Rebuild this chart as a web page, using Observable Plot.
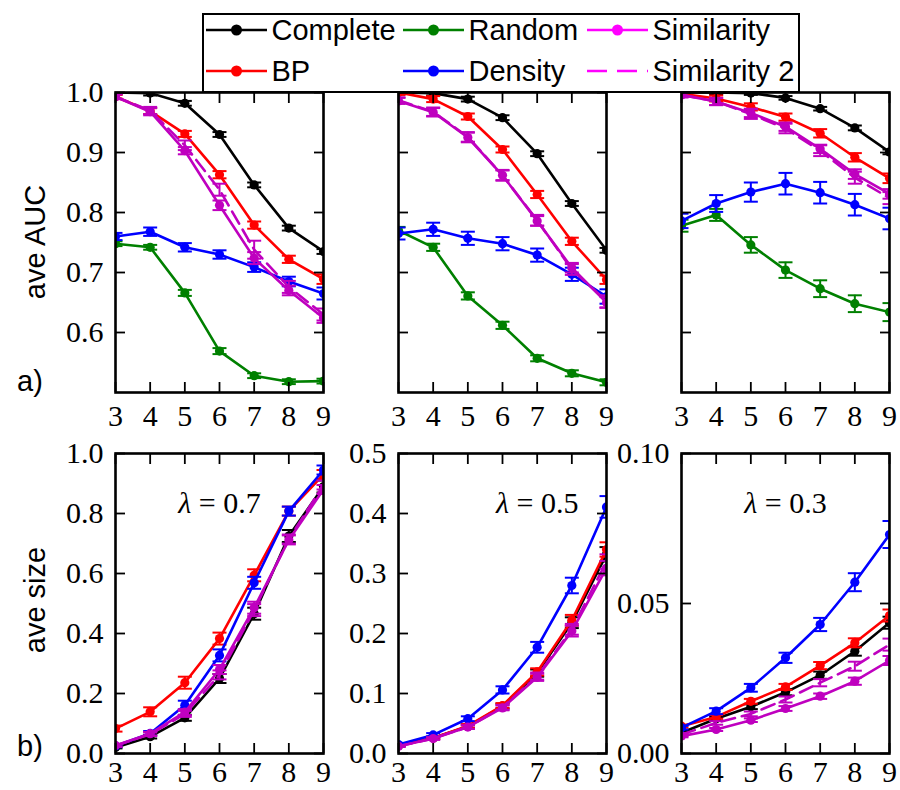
<!DOCTYPE html>
<html><head><meta charset="utf-8">
<script src="https://cdn.jsdelivr.net/npm/d3@7"></script>
<script src="https://cdn.jsdelivr.net/npm/@observablehq/plot@0.6"></script>
<style>
html,body{margin:0;padding:0;background:#fff;}
#chart{position:relative;width:900px;height:790px;overflow:hidden;background:#fff;}
.lab{position:absolute;font-family:"Liberation Sans",Arial,sans-serif;font-size:29px;color:#000;white-space:nowrap;line-height:1;}
#legend{position:absolute;left:202px;top:13px;width:598px;height:80px;box-sizing:border-box;border:2.5px solid #000;background:#fff;z-index:10;}
svg.panel text{font-family:"Liberation Serif","DejaVu Serif",serif !important;font-size:30px;}
</style></head><body><div id="chart"></div>
<script>
// ---------- data ----------
const sizes = [3, 4, 5, 6, 7, 8, 9];
const seriesNames = ["Complete", "BP", "Random", "Density", "Similarity", "Similarity 2"];
const lambdaLabels = ["0.7", "0.5", "0.3"];

// top row: ave AUC
const auc07Complete = [1.000, 0.999, 0.982, 0.930, 0.846, 0.774, 0.735];
const auc07BP = [0.993, 0.969, 0.931, 0.863, 0.779, 0.722, 0.689];
const auc07Random = [0.748, 0.742, 0.666, 0.569, 0.528, 0.518, 0.519];
const auc07Density = [0.760, 0.768, 0.742, 0.730, 0.709, 0.685, 0.665];
const auc07Similarity = [0.993, 0.968, 0.903, 0.812, 0.724, 0.670, 0.624];
const auc07Similarity2 = [0.993, 0.970, 0.912, 0.838, 0.738, 0.676, 0.630];
const auc07CompleteErr = [0.003, 0.004, 0.004, 0.004, 0.004, 0.004, 0.004];
const auc07BPErr = [0.003, 0.005, 0.005, 0.006, 0.006, 0.006, 0.008];
const auc07RandomErr = [0.004, 0.004, 0.005, 0.005, 0.004, 0.004, 0.004];
const auc07DensityErr = [0.006, 0.007, 0.007, 0.007, 0.008, 0.008, 0.010];
const auc07SimilarityErr = [0.004, 0.006, 0.006, 0.008, 0.010, 0.008, 0.008];
const auc07Similarity2Err = [0.004, 0.006, 0.008, 0.010, 0.015, 0.010, 0.010];

const auc05Complete = [1.000, 0.999, 0.989, 0.958, 0.898, 0.815, 0.737];
const auc05BP = [1.000, 0.989, 0.960, 0.905, 0.830, 0.752, 0.688];
const auc05Random = [0.770, 0.742, 0.661, 0.612, 0.557, 0.532, 0.517];
const auc05Density = [0.765, 0.772, 0.757, 0.748, 0.729, 0.697, 0.660];
const auc05Similarity = [0.986, 0.967, 0.925, 0.862, 0.786, 0.708, 0.650];
const auc05Similarity2 = [0.987, 0.968, 0.926, 0.862, 0.787, 0.705, 0.652];
const auc05CompleteErr = [0.003, 0.004, 0.004, 0.004, 0.004, 0.004, 0.004];
const auc05BPErr = [0.004, 0.005, 0.005, 0.005, 0.006, 0.006, 0.007];
const auc05RandomErr = [0.006, 0.006, 0.006, 0.006, 0.005, 0.005, 0.005];
const auc05DensityErr = [0.010, 0.011, 0.011, 0.011, 0.011, 0.011, 0.012];
const auc05SimilarityErr = [0.005, 0.007, 0.008, 0.008, 0.008, 0.008, 0.009];
const auc05Similarity2Err = [0.005, 0.007, 0.008, 0.009, 0.009, 0.009, 0.010];

const auc03Complete = [1.000, 1.000, 0.999, 0.991, 0.973, 0.941, 0.901];
const auc03BP = [0.998, 0.990, 0.976, 0.959, 0.932, 0.892, 0.857];
const auc03Random = [0.778, 0.796, 0.746, 0.704, 0.673, 0.648, 0.634];
const auc03Density = [0.786, 0.815, 0.834, 0.848, 0.833, 0.813, 0.790];
const auc03Similarity = [0.996, 0.985, 0.966, 0.943, 0.906, 0.864, 0.831];
const auc03Similarity2 = [0.996, 0.985, 0.964, 0.940, 0.903, 0.858, 0.824];
const auc03CompleteErr = [0.003, 0.003, 0.003, 0.003, 0.003, 0.004, 0.004];
const auc03BPErr = [0.004, 0.005, 0.006, 0.006, 0.007, 0.007, 0.008];
const auc03RandomErr = [0.010, 0.010, 0.013, 0.013, 0.014, 0.014, 0.015];
const auc03DensityErr = [0.012, 0.014, 0.016, 0.018, 0.018, 0.018, 0.018];
const auc03SimilarityErr = [0.004, 0.006, 0.007, 0.007, 0.007, 0.008, 0.008];
const auc03Similarity2Err = [0.004, 0.006, 0.008, 0.008, 0.009, 0.010, 0.010];

// bottom row: ave size
const size07Complete = [0.020, 0.056, 0.119, 0.250, 0.466, 0.725, 0.890];
const size07BP = [0.083, 0.139, 0.236, 0.383, 0.594, 0.808, 0.930];
const size07Density = [0.025, 0.067, 0.161, 0.327, 0.569, 0.808, 0.945];
const size07Similarity = [0.027, 0.066, 0.138, 0.280, 0.486, 0.712, 0.880];
const size07Similarity2 = [0.026, 0.064, 0.132, 0.262, 0.478, 0.715, 0.895];
const size07CompleteErr = [0.003, 0.006, 0.010, 0.015, 0.020, 0.020, 0.020];
const size07BPErr = [0.010, 0.015, 0.020, 0.020, 0.020, 0.015, 0.015];
const size07DensityErr = [0.004, 0.008, 0.015, 0.020, 0.020, 0.015, 0.015];
const size07SimilarityErr = [0.004, 0.006, 0.010, 0.015, 0.020, 0.015, 0.015];
const size07Similarity2Err = [0.004, 0.006, 0.010, 0.015, 0.020, 0.015, 0.015];

const size05Complete = [0.013, 0.026, 0.045, 0.079, 0.134, 0.218, 0.332];
const size05BP = [0.013, 0.026, 0.046, 0.080, 0.136, 0.222, 0.340];
const size05Density = [0.015, 0.031, 0.058, 0.106, 0.177, 0.280, 0.411];
const size05Similarity = [0.012, 0.025, 0.044, 0.076, 0.127, 0.204, 0.309];
const size05Similarity2 = [0.012, 0.025, 0.044, 0.077, 0.129, 0.207, 0.320];
const size05CompleteErr = [0.001, 0.002, 0.003, 0.004, 0.006, 0.009, 0.012];
const size05BPErr = [0.001, 0.002, 0.003, 0.004, 0.006, 0.009, 0.012];
const size05DensityErr = [0.002, 0.003, 0.004, 0.006, 0.009, 0.013, 0.018];
const size05SimilarityErr = [0.001, 0.002, 0.003, 0.004, 0.006, 0.009, 0.012];
const size05Similarity2Err = [0.001, 0.002, 0.003, 0.004, 0.006, 0.009, 0.012];

const size03Complete = [0.0069, 0.0116, 0.0156, 0.0204, 0.0261, 0.0341, 0.0436];
const size03BP = [0.0091, 0.0122, 0.0174, 0.0222, 0.0293, 0.0369, 0.0460];
const size03Density = [0.0086, 0.0141, 0.0219, 0.0319, 0.0430, 0.0571, 0.0730];
const size03Similarity = [0.0058, 0.0080, 0.0111, 0.0150, 0.0191, 0.0241, 0.0310];
const size03Similarity2 = [0.0063, 0.0102, 0.0132, 0.0180, 0.0236, 0.0291, 0.0363];
const size03CompleteErr = [0.0005, 0.0006, 0.0008, 0.0010, 0.0012, 0.0015, 0.0020];
const size03BPErr = [0.0005, 0.0006, 0.0008, 0.0010, 0.0012, 0.0015, 0.0020];
const size03DensityErr = [0.0006, 0.0010, 0.0013, 0.0017, 0.0022, 0.0030, 0.0045];
const size03SimilarityErr = [0.0004, 0.0005, 0.0006, 0.0008, 0.0009, 0.0012, 0.0015];
const size03Similarity2Err = [0.0005, 0.0006, 0.0008, 0.0010, 0.0012, 0.0015, 0.0020];

// tick values
const xTicks = [3, 4, 5, 6, 7, 8, 9];
const aucTicks = [0.6, 0.7, 0.8, 0.9, 1.0];
const size07Ticks = [0, 0.2, 0.4, 0.6, 0.8, 1.0];
const size05Ticks = [0, 0.1, 0.2, 0.3, 0.4, 0.5];
const size03Ticks = [0, 0.05, 0.10];

// ---------- styling ----------
const plotColors = ["#000000", "#ff0000", "#008000", "#0000ff", "#bf00bf", "#bf00bf"];
const legendColors = ["#000000", "#ff0000", "#008000", "#0000ff", "#ff00ff", "#ff00ff"];
const serif = '"Liberation Serif", "DejaVu Serif", serif';

function table(values, errs) {
  const rows = [];
  values.forEach((arr, i) => {
    if (!arr) return;
    arr.forEach((v, j) => rows.push({series: seriesNames[i], x: sizes[j], v, e: errs[i][j]}));
  });
  return rows;
}

const capSymbol = {
  draw(context, size) {
    const r = Math.sqrt(size / Math.PI);
    context.moveTo(-r, 0);
    context.lineTo(r, 0);
  }
};

const ML = 80, MR = 14, MT = 14, MB = 46, FW = 208, FH = 300;

function panel({rows, yDomain, yTicks, yFormat, showY, left, top, lambda, xPad}) {
  const marks = [];
  for (const s of seriesNames) {
    const d = rows.filter(r => r.series === s);
    if (!d.length) continue;
    const dashed = s === "Similarity 2";
    marks.push(Plot.ruleX(d, {x: "x", y1: r => r.v - r.e, y2: r => r.v + r.e, stroke: "series", strokeWidth: 2, clip: true}));
    marks.push(Plot.dot(d, {x: "x", y: r => r.v - r.e, symbol: capSymbol, r: 7, stroke: "series", fill: "none", strokeWidth: 2, clip: true}));
    marks.push(Plot.dot(d, {x: "x", y: r => r.v + r.e, symbol: capSymbol, r: 7, stroke: "series", fill: "none", strokeWidth: 2, clip: true}));
    marks.push(Plot.line(d, {x: "x", y: "v", stroke: "series", strokeWidth: 2.6, strokeDasharray: dashed ? "14,7" : null, clip: true}));
    if (!dashed) marks.push(Plot.dot(d, {x: "x", y: "v", fill: "series", r: 4.6, clip: true}));
  }
  if (lambda) {
    marks.push(Plot.text([lambda], {
      x: () => lambda.x, y: () => lambda.y,
      text: () => "λ = " + lambda.label,
      textAnchor: "middle", lineAnchor: "middle", dy: -10,
      fontSize: 30, fill: "#000"
    }));
  }
  marks.push(Plot.frame({stroke: "#000", strokeWidth: 2.6}));
  marks.push(Plot.axisX(xTicks, {anchor: "bottom", tickSize: -10, tickPadding: xPad, strokeWidth: 1.8, label: null, fontSize: 30, tickFormat: d3.format("d")}));
  marks.push(Plot.axisX(xTicks, {anchor: "top", tickSize: -10, strokeWidth: 1.8, label: null, tickFormat: () => ""}));
  marks.push(Plot.axisY(yTicks, {anchor: "left", tickSize: -10, tickPadding: 22, strokeWidth: 1.8, label: null, fontSize: 30, tickFormat: showY ? d3.format(yFormat) : () => ""}));
  marks.push(Plot.axisY(yTicks, {anchor: "right", tickSize: -10, strokeWidth: 1.8, label: null, tickFormat: () => ""}));
  const svg = Plot.plot({
    width: ML + FW + MR, height: MT + FH + MB,
    marginLeft: ML, marginRight: MR, marginTop: MT, marginBottom: MB,
    x: {domain: [3, 9]},
    y: {domain: yDomain},
    color: {domain: seriesNames, range: plotColors},
    style: {fontFamily: serif, fontSize: "30px", background: "transparent", overflow: "visible"},
    marks
  });
  svg.classList.add("panel");
  svg.style.position = "absolute";
  svg.style.left = (left - ML) + "px";
  svg.style.top = (top - MT) + "px";
  // italic λ in the annotation
  for (const t of svg.querySelectorAll("text")) {
    const s = t.textContent;
    if (s.startsWith("λ")) {
      t.textContent = "";
      const l = document.createElementNS("http://www.w3.org/2000/svg", "tspan");
      l.setAttribute("font-style", "italic");
      l.textContent = "λ";
      t.appendChild(l);
      t.appendChild(document.createTextNode(s.slice(1)));
    }
  }
  return svg;
}

const chart = document.getElementById("chart");
const colLeft = [115, 398, 681];
const topRow = 92, bottomRow = 453;

const aucPanels = [
  table([auc07Complete, auc07BP, auc07Random, auc07Density, auc07Similarity, auc07Similarity2],
        [auc07CompleteErr, auc07BPErr, auc07RandomErr, auc07DensityErr, auc07SimilarityErr, auc07Similarity2Err]),
  table([auc05Complete, auc05BP, auc05Random, auc05Density, auc05Similarity, auc05Similarity2],
        [auc05CompleteErr, auc05BPErr, auc05RandomErr, auc05DensityErr, auc05SimilarityErr, auc05Similarity2Err]),
  table([auc03Complete, auc03BP, auc03Random, auc03Density, auc03Similarity, auc03Similarity2],
        [auc03CompleteErr, auc03BPErr, auc03RandomErr, auc03DensityErr, auc03SimilarityErr, auc03Similarity2Err])
];
const sizePanels = [
  table([size07Complete, size07BP, null, size07Density, size07Similarity, size07Similarity2],
        [size07CompleteErr, size07BPErr, null, size07DensityErr, size07SimilarityErr, size07Similarity2Err]),
  table([size05Complete, size05BP, null, size05Density, size05Similarity, size05Similarity2],
        [size05CompleteErr, size05BPErr, null, size05DensityErr, size05SimilarityErr, size05Similarity2Err]),
  table([size03Complete, size03BP, null, size03Density, size03Similarity, size03Similarity2],
        [size03CompleteErr, size03BPErr, null, size03DensityErr, size03SimilarityErr, size03Similarity2Err])
];

aucPanels.forEach((rows, i) => {
  chart.appendChild(panel({rows, yDomain: [0.5, 1.0], yTicks: aucTicks, yFormat: ".1f", showY: i === 0, left: colLeft[i], top: topRow, xPad: 22}));
});
const sizeDomains = [[0, 1.0], [0, 0.5], [0, 0.10]];
const sizeTicks = [size07Ticks, size05Ticks, size03Ticks];
const sizeFormats = [".1f", ".1f", ".2f"];
const lambdaPos = [{x: 6, y: 0.8}, {x: 7, y: 0.4}, {x: 6, y: 0.08}];
sizePanels.forEach((rows, i) => {
  chart.appendChild(panel({rows, yDomain: sizeDomains[i], yTicks: sizeTicks[i], yFormat: sizeFormats[i], showY: true,
    left: colLeft[i], top: bottomRow, xPad: 17, lambda: {...lambdaPos[i], label: lambdaLabels[i]}}));
});

// axis titles and panel letters
function label(text, x, y, rotate) {
  const d = document.createElement("div");
  d.className = "lab";
  d.textContent = text;
  d.style.left = x + "px";
  d.style.top = y + "px";
  d.style.transform = "translate(-50%,-50%)" + (rotate ? " rotate(-90deg)" : "");
  chart.appendChild(d);
}
label("ave AUC", 35, 242, true);
label("ave size", 35, 600, true);
label("a)", 30, 381, false);
label("b)", 30, 746, false);

// legend
const legend = document.createElement("div");
legend.id = "legend";
chart.appendChild(legend);
const legendEntries = [
  {i: 0, col: 0, row: 0}, {i: 2, col: 1, row: 0}, {i: 4, col: 2, row: 0},
  {i: 1, col: 0, row: 1}, {i: 3, col: 1, row: 1}, {i: 5, col: 2, row: 1}
];
const colStart = [206, 403, 587], rowY = [30, 71];
const NS = "http://www.w3.org/2000/svg";
for (const en of legendEntries) {
  const x0 = colStart[en.col] - 202, y0 = rowY[en.row] - 13;
  const sw = document.createElementNS(NS, "svg");
  sw.setAttribute("width", 64); sw.setAttribute("height", 20);
  sw.style.position = "absolute";
  sw.style.left = (x0 - 2.5) + "px";
  sw.style.top = (y0 - 10 - 2.5) + "px";
  const ln = document.createElementNS(NS, "line");
  ln.setAttribute("x1", 0); ln.setAttribute("x2", 61); ln.setAttribute("y1", 10); ln.setAttribute("y2", 10);
  ln.setAttribute("stroke", legendColors[en.i]); ln.setAttribute("stroke-width", 2.6);
  if (seriesNames[en.i] === "Similarity 2") ln.setAttribute("stroke-dasharray", "20,10");
  sw.appendChild(ln);
  if (seriesNames[en.i] !== "Similarity 2") {
    const c = document.createElementNS(NS, "circle");
    c.setAttribute("cx", 30.5); c.setAttribute("cy", 10); c.setAttribute("r", 5.5);
    c.setAttribute("fill", legendColors[en.i]);
    sw.appendChild(c);
  }
  legend.appendChild(sw);
  const t = document.createElement("div");
  t.className = "lab";
  t.textContent = seriesNames[en.i];
  t.style.left = (x0 + 66 - 2.5) + "px";
  t.style.top = (y0 - 2.5) + "px";
  t.style.transform = "translate(0,-50%)";
  legend.appendChild(t);
}
</script>
</body></html>
